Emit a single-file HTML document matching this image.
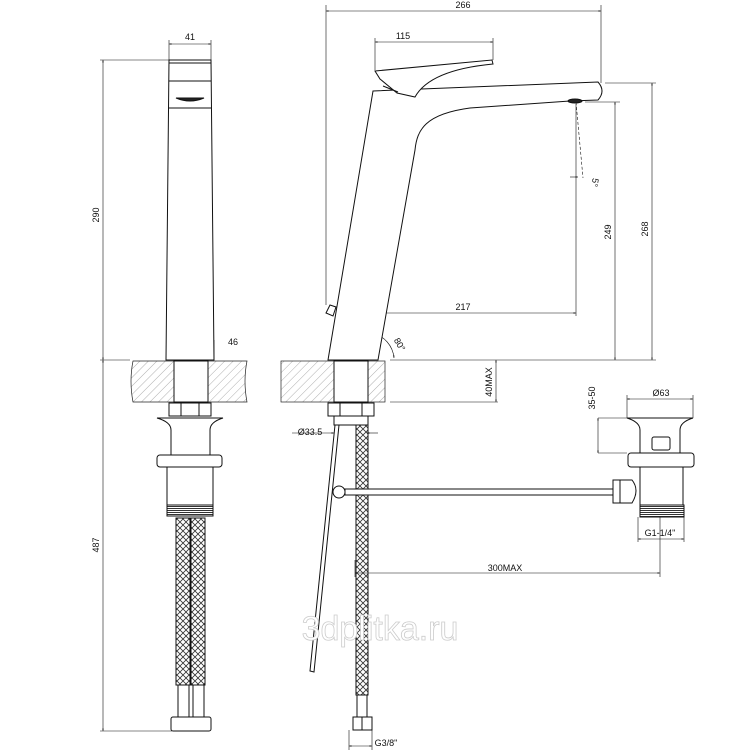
<!DOCTYPE html>
<html><head><meta charset="utf-8"><style>
html,body{margin:0;padding:0;background:#fff}
svg{display:block}
text{font-family:"Liberation Sans",sans-serif;font-size:9px;fill:#111}
</style></head><body>
<svg width="750" height="750" viewBox="0 0 750 750" xmlns="http://www.w3.org/2000/svg">
<defs>
<pattern id="hatch" width="6" height="6" patternUnits="userSpaceOnUse" patternTransform="rotate(45)">
<line x1="0" y1="0" x2="0" y2="6" stroke="#999" stroke-width="0.8"/></pattern>
<pattern id="braid" width="6" height="6" patternUnits="userSpaceOnUse">
<path d="M0 0L6 6M6 0L0 6" stroke="#333" stroke-width="0.8"/></pattern>
<pattern id="thread" width="2" height="2" patternUnits="userSpaceOnUse">
<rect width="2" height="1" fill="#333"/></pattern>
<marker id="a" viewBox="0 0 10 10" refX="10" refY="5" markerWidth="6" markerHeight="4" orient="auto-start-reverse"><path d="M0 2L10 5L0 8z" fill="#111"/></marker>
</defs>
<g stroke="#111" stroke-width="0.6" fill="none">
<!-- dim ext lines -->
<line x1="100" y1="60" x2="170" y2="60"/><line x1="100" y1="360" x2="130" y2="360"/>
<line x1="100" y1="731" x2="172" y2="731"/>
<line x1="169" y1="40" x2="169" y2="60"/><line x1="211" y1="40" x2="211" y2="60"/>
<line x1="214" y1="340" x2="214" y2="360"/>
<line x1="326" y1="5" x2="326" y2="305"/><line x1="601" y1="5" x2="601" y2="83"/>
<line x1="375" y1="38" x2="375" y2="70"/><line x1="493" y1="38" x2="493" y2="60"/>
<line x1="605" y1="83" x2="656" y2="83"/><line x1="585" y1="102" x2="620" y2="102"/>
<line x1="390" y1="360" x2="656" y2="360"/>
<line x1="352" y1="310" x2="352" y2="360"/><line x1="576" y1="104" x2="576" y2="316"/>
<line x1="390" y1="402" x2="498" y2="402"/>
<line x1="598" y1="418" x2="627" y2="418"/><line x1="598" y1="453" x2="627" y2="453"/>
<line x1="627" y1="395" x2="627" y2="418"/><line x1="693" y1="395" x2="693" y2="418"/>
<line x1="638" y1="517" x2="638" y2="542"/><line x1="684" y1="517" x2="684" y2="542"/>
<line x1="660" y1="517" x2="660" y2="577"/><line x1="355" y1="560" x2="355" y2="577"/>
<line x1="349" y1="730" x2="349" y2="750"/><line x1="372" y1="730" x2="372" y2="750"/>
<!-- dims with arrows -->
<g marker-start="url(#a)" marker-end="url(#a)">
<line x1="169" y1="44" x2="211" y2="44"/>
<line x1="166" y1="348" x2="214" y2="348"/>
<line x1="103" y1="60" x2="103" y2="360"/>
<line x1="103" y1="360" x2="103" y2="731"/>
<line x1="326" y1="11" x2="601" y2="11"/>
<line x1="375" y1="42" x2="493" y2="42"/>
<line x1="615" y1="102" x2="615" y2="360"/>
<line x1="652" y1="83" x2="652" y2="360"/>
<line x1="352" y1="313" x2="576" y2="313"/>
<line x1="496" y1="360" x2="496" y2="402"/>
<line x1="598" y1="418" x2="598" y2="453"/>
<line x1="627" y1="399" x2="693" y2="399"/>
<line x1="638" y1="539" x2="684" y2="539"/>
<line x1="355" y1="573" x2="660" y2="573"/>
<line x1="349" y1="746" x2="372" y2="746"/>
</g>
<line x1="292" y1="433" x2="334" y2="433" marker-end="url(#a)"/>
<line x1="367" y1="433" x2="378" y2="433" marker-start="url(#a)"/>
<line x1="570" y1="177" x2="578" y2="177" marker-end="url(#a)"/>
<path d="M372 333 A28 28 0 0 1 394 358" marker-end="url(#a)"/>
<path d="M576 102 L583 178" stroke-dasharray="3,2"/>
</g>
<!-- countertops -->
<g stroke="#222" stroke-width="0.7">
<path d="M133 361 H247 Q243 381 247 402 H133 Q129 381 133 361z" fill="url(#hatch)"/>
<rect x="281" y="361" width="104" height="41" fill="url(#hatch)"/>
</g>
<g stroke="#111" stroke-width="1" fill="#fff">
<!-- left view -->
<path d="M169 60 H211 L214 360 H166 z"/>
<line x1="169" y1="63" x2="211" y2="63"/><line x1="169" y1="81" x2="211" y2="81"/>
<line x1="169" y1="108" x2="211" y2="108"/>
<path d="M176 98 Q190 104 204 98 z" fill="#222"/>
<rect x="174" y="361" width="34" height="41"/>
<rect x="169" y="403" width="42" height="13"/>
<line x1="181" y1="403" x2="181" y2="416"/><line x1="199" y1="403" x2="199" y2="416"/>
<path d="M157 418 H223 Q210 422 210 430 V455 H171 V430 Q171 422 157 418z"/>
<rect x="157" y="455" width="65" height="12" rx="3"/>
<rect x="167" y="467" width="46" height="38"/>
<rect x="167" y="505" width="46" height="11" fill="url(#thread)"/>
<rect x="176" y="518" width="14" height="167" fill="url(#braid)"/>
<rect x="191" y="518" width="14" height="167" fill="url(#braid)"/>
<rect x="178" y="685" width="11" height="32"/><rect x="193" y="685" width="11" height="32"/>
<rect x="171" y="717" width="40" height="14" rx="2"/>
<!-- middle view -->
<path d="M373 91 L598 82 Q606 91 598 100 L570 101 L470 108 C425 114 417 130 415 150 L378 360 H328 z"/>
<path d="M375 71 L492 60 L493 64 Q430 70 415 97 L397 93 L380 79 z"/>
<line x1="383" y1="86" x2="398" y2="92"/>
<ellipse cx="575" cy="101" rx="7" ry="2" fill="#222"/>
<path d="M326 313 L330 305 L336 307 L333 316 z"/>
<rect x="334" y="361" width="34" height="41"/>
<rect x="328" y="403" width="46" height="13"/>
<line x1="340" y1="403" x2="340" y2="416"/><line x1="362" y1="403" x2="362" y2="416"/>
<rect x="334" y="416" width="34" height="9"/>
<path d="M335 425 L310 671 L314 672 L339 425z"/>
<rect x="356" y="425" width="12" height="270" fill="url(#braid)"/>
<rect x="357" y="695" width="10" height="22"/>
<rect x="353" y="717" width="19" height="13"/>
<line x1="362" y1="717" x2="362" y2="730"/>
<rect x="345" y="489" width="268" height="6"/>
<circle cx="339" cy="492" r="6"/>
<!-- drain -->
<path d="M627 418 H693 Q680 422 680 430 V453 H640 V430 Q640 422 627 418z"/>
<rect x="652" y="437" width="18" height="13" rx="2"/>
<rect x="628" y="453" width="66" height="14" rx="3"/>
<rect x="640" y="467" width="43" height="38"/>
<rect x="640" y="505" width="44" height="12" fill="url(#thread)"/>
<path d="M613 480 H632 Q640 490 632 503 H613z"/>
<line x1="620" y1="480" x2="620" y2="503"/>
</g>
<!-- labels -->
<text x="190" y="40" text-anchor="middle">41</text>
<text x="233" y="345" text-anchor="middle">46</text>
<text transform="translate(99,215) rotate(-90)" text-anchor="middle">290</text>
<text transform="translate(99,545) rotate(-90)" text-anchor="middle">487</text>
<text x="463" y="8" text-anchor="middle">266</text>
<text x="403" y="39" text-anchor="middle" font-size="8">115</text>
<text transform="translate(611,232) rotate(-90)" text-anchor="middle">249</text>
<text transform="translate(648,229) rotate(-90)" text-anchor="middle">268</text>
<text x="463" y="310" text-anchor="middle">217</text>
<text transform="translate(592,182) rotate(100)" text-anchor="middle" font-size="8">5°</text>
<text transform="translate(397,346) rotate(60)" text-anchor="middle">80°</text>
<text transform="translate(492,382) rotate(-90)" text-anchor="middle">40MAX</text>
<text transform="translate(595,398) rotate(-90)" text-anchor="middle">35-50</text>
<text x="661" y="396" text-anchor="middle">Ø63</text>
<text x="660" y="536" text-anchor="middle">G1-1/4"</text>
<text x="505" y="571" text-anchor="middle">300MAX</text>
<text x="310" y="435" text-anchor="middle">Ø33.5</text>
<text x="386" y="746" text-anchor="middle">G3/8"</text>
<text x="380" y="640" text-anchor="middle" style="font-size:34px;fill:#fff;stroke:#ccc;stroke-width:0.8">3dplitka.ru</text>
</svg>
</body></html>
